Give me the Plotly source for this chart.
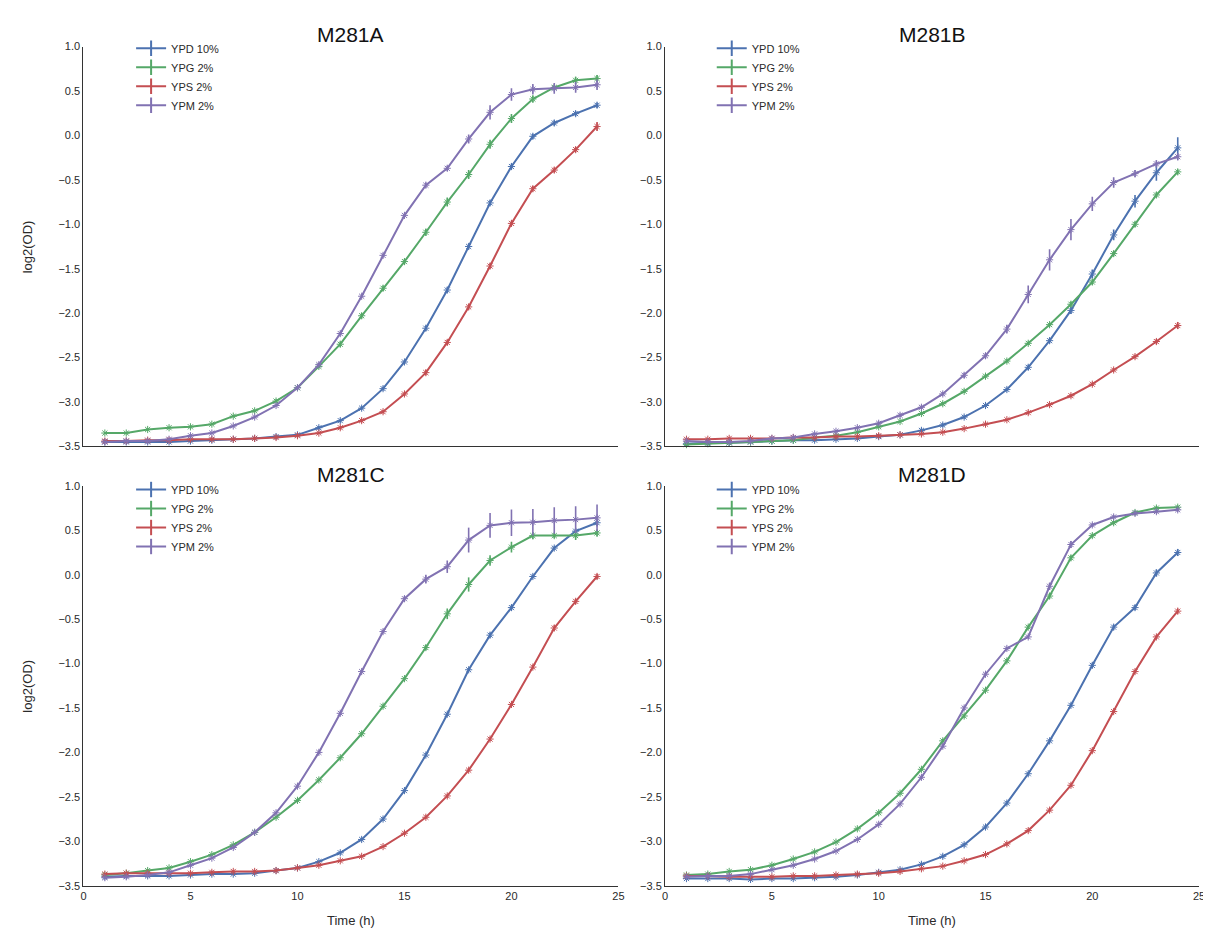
import plotly.graph_objects as go

# ---------------- data ----------------
time_h = [1, 2, 3, 4, 5, 6, 7, 8, 9, 10, 11, 12, 13, 14, 15, 16, 17, 18, 19, 20, 21, 22, 23, 24]
series_names = ["YPD 10%", "YPG 2%", "YPS 2%", "YPM 2%"]
panel_titles = ["M281A", "M281B", "M281C", "M281D"]
x_ticks = [0, 5, 10, 15, 20, 25]
y_ticks = [-3.5, -3.0, -2.5, -2.0, -1.5, -1.0, -0.5, 0.0, 0.5, 1.0]

# M281A
a_ypd = [-3.45, -3.45, -3.45, -3.45, -3.44, -3.43, -3.42, -3.41, -3.39, -3.37, -3.29, -3.21, -3.07, -2.85, -2.55, -2.17, -1.74, -1.25, -0.76, -0.35, -0.01, 0.14, 0.245, 0.34]
a_ypg = [-3.35, -3.35, -3.31, -3.29, -3.28, -3.25, -3.16, -3.10, -2.99, -2.84, -2.60, -2.35, -2.03, -1.72, -1.42, -1.09, -0.75, -0.44, -0.10, 0.19, 0.41, 0.54, 0.62, 0.64]
a_yps = [-3.44, -3.44, -3.43, -3.43, -3.42, -3.42, -3.42, -3.41, -3.40, -3.38, -3.35, -3.29, -3.21, -3.11, -2.91, -2.67, -2.33, -1.93, -1.47, -0.99, -0.60, -0.39, -0.16, 0.10]
a_ypm = [-3.45, -3.44, -3.44, -3.42, -3.38, -3.35, -3.27, -3.17, -3.04, -2.84, -2.58, -2.23, -1.81, -1.35, -0.90, -0.56, -0.37, -0.04, 0.26, 0.46, 0.52, 0.53, 0.54, 0.57]
a_ypd_err = [0.01, 0.01, 0.01, 0.01, 0.01, 0.01, 0.01, 0.01, 0.01, 0.01, 0.02, 0.02, 0.02, 0.02, 0.02, 0.03, 0.03, 0.03, 0.03, 0.03, 0.03, 0.03, 0.03, 0.03]
a_ypg_err = [0.01, 0.01, 0.01, 0.01, 0.01, 0.01, 0.01, 0.01, 0.02, 0.02, 0.02, 0.03, 0.03, 0.03, 0.03, 0.04, 0.05, 0.05, 0.05, 0.05, 0.04, 0.03, 0.04, 0.04]
a_yps_err = [0.01, 0.01, 0.01, 0.01, 0.01, 0.01, 0.01, 0.01, 0.01, 0.01, 0.01, 0.02, 0.02, 0.02, 0.02, 0.03, 0.03, 0.03, 0.03, 0.03, 0.03, 0.03, 0.03, 0.05]
a_ypm_err = [0.01, 0.01, 0.01, 0.01, 0.02, 0.01, 0.01, 0.01, 0.01, 0.02, 0.02, 0.02, 0.02, 0.02, 0.02, 0.03, 0.03, 0.05, 0.08, 0.07, 0.06, 0.06, 0.06, 0.06]

# M281B
b_ypd = [-3.47, -3.46, -3.46, -3.45, -3.44, -3.43, -3.43, -3.42, -3.41, -3.39, -3.37, -3.32, -3.26, -3.17, -3.04, -2.86, -2.61, -2.31, -1.97, -1.56, -1.12, -0.74, -0.42, -0.14]
b_ypg = [-3.48, -3.47, -3.46, -3.45, -3.44, -3.43, -3.40, -3.38, -3.34, -3.28, -3.22, -3.13, -3.02, -2.88, -2.71, -2.54, -2.34, -2.13, -1.90, -1.65, -1.33, -1.00, -0.67, -0.41]
b_yps = [-3.42, -3.42, -3.41, -3.41, -3.41, -3.40, -3.40, -3.39, -3.39, -3.38, -3.37, -3.36, -3.34, -3.30, -3.25, -3.20, -3.12, -3.03, -2.93, -2.80, -2.64, -2.49, -2.32, -2.14]
b_ypm = [-3.44, -3.45, -3.45, -3.44, -3.41, -3.40, -3.36, -3.33, -3.29, -3.24, -3.15, -3.06, -2.91, -2.70, -2.48, -2.18, -1.79, -1.40, -1.06, -0.77, -0.53, -0.43, -0.32, -0.24]
b_ypd_err = [0.01, 0.01, 0.01, 0.01, 0.01, 0.01, 0.01, 0.01, 0.01, 0.01, 0.01, 0.02, 0.02, 0.02, 0.02, 0.02, 0.03, 0.03, 0.04, 0.05, 0.06, 0.07, 0.09, 0.12]
b_ypg_err = [0.01, 0.01, 0.01, 0.01, 0.01, 0.01, 0.01, 0.01, 0.01, 0.01, 0.01, 0.01, 0.02, 0.02, 0.02, 0.02, 0.02, 0.02, 0.03, 0.03, 0.03, 0.03, 0.03, 0.03]
b_yps_err = [0.01, 0.01, 0.01, 0.01, 0.01, 0.01, 0.01, 0.01, 0.01, 0.01, 0.01, 0.01, 0.01, 0.01, 0.01, 0.01, 0.02, 0.02, 0.02, 0.02, 0.02, 0.02, 0.03, 0.04]
b_ypm_err = [0.01, 0.01, 0.01, 0.01, 0.01, 0.01, 0.01, 0.01, 0.01, 0.02, 0.02, 0.02, 0.02, 0.03, 0.03, 0.05, 0.10, 0.12, 0.12, 0.08, 0.06, 0.04, 0.04, 0.04]

# M281C
c_ypd = [-3.40, -3.39, -3.39, -3.39, -3.38, -3.37, -3.37, -3.36, -3.33, -3.30, -3.23, -3.13, -2.98, -2.75, -2.43, -2.03, -1.57, -1.07, -0.68, -0.37, -0.02, 0.30, 0.49, 0.585]
c_ypg = [-3.38, -3.36, -3.33, -3.30, -3.23, -3.15, -3.04, -2.90, -2.73, -2.54, -2.31, -2.06, -1.79, -1.48, -1.17, -0.82, -0.44, -0.11, 0.16, 0.31, 0.44, 0.44, 0.44, 0.47]
c_yps = [-3.37, -3.36, -3.36, -3.36, -3.36, -3.35, -3.34, -3.34, -3.33, -3.30, -3.27, -3.22, -3.17, -3.06, -2.91, -2.73, -2.49, -2.20, -1.85, -1.46, -1.04, -0.60, -0.30, -0.02]
c_ypm = [-3.41, -3.40, -3.38, -3.35, -3.27, -3.19, -3.07, -2.90, -2.68, -2.38, -2.00, -1.56, -1.09, -0.64, -0.27, -0.05, 0.09, 0.39, 0.555, 0.585, 0.59, 0.61, 0.62, 0.64]
c_ypd_err = [0.01, 0.01, 0.01, 0.01, 0.01, 0.01, 0.01, 0.01, 0.01, 0.01, 0.01, 0.02, 0.02, 0.02, 0.02, 0.02, 0.02, 0.02, 0.03, 0.03, 0.02, 0.02, 0.03, 0.04]
c_ypg_err = [0.01, 0.01, 0.01, 0.01, 0.01, 0.01, 0.01, 0.01, 0.01, 0.01, 0.01, 0.01, 0.02, 0.02, 0.02, 0.03, 0.06, 0.08, 0.06, 0.06, 0.04, 0.03, 0.05, 0.04]
c_yps_err = [0.01, 0.01, 0.01, 0.01, 0.01, 0.01, 0.01, 0.01, 0.01, 0.01, 0.01, 0.01, 0.01, 0.01, 0.02, 0.02, 0.02, 0.02, 0.02, 0.02, 0.02, 0.03, 0.03, 0.03]
c_ypm_err = [0.01, 0.01, 0.01, 0.01, 0.01, 0.01, 0.01, 0.01, 0.01, 0.02, 0.02, 0.02, 0.02, 0.02, 0.03, 0.05, 0.07, 0.14, 0.14, 0.15, 0.15, 0.15, 0.15, 0.15]

# M281D
d_ypd = [-3.42, -3.42, -3.42, -3.43, -3.42, -3.42, -3.41, -3.40, -3.38, -3.35, -3.32, -3.26, -3.17, -3.04, -2.84, -2.57, -2.24, -1.87, -1.47, -1.02, -0.59, -0.37, 0.02, 0.25]
d_ypg = [-3.38, -3.37, -3.34, -3.32, -3.27, -3.20, -3.12, -3.01, -2.86, -2.68, -2.46, -2.19, -1.87, -1.59, -1.30, -0.97, -0.59, -0.24, 0.19, 0.44, 0.585, 0.70, 0.75, 0.76]
d_yps = [-3.39, -3.39, -3.40, -3.40, -3.40, -3.39, -3.39, -3.38, -3.37, -3.36, -3.34, -3.31, -3.28, -3.22, -3.15, -3.03, -2.88, -2.65, -2.37, -1.98, -1.54, -1.09, -0.70, -0.41]
d_ypm = [-3.40, -3.39, -3.39, -3.37, -3.32, -3.27, -3.20, -3.11, -2.98, -2.81, -2.58, -2.28, -1.93, -1.50, -1.12, -0.83, -0.70, -0.13, 0.34, 0.56, 0.65, 0.69, 0.71, 0.73]
d_ypd_err = [0.01, 0.01, 0.01, 0.01, 0.01, 0.01, 0.01, 0.01, 0.01, 0.01, 0.01, 0.02, 0.02, 0.02, 0.02, 0.02, 0.02, 0.02, 0.02, 0.03, 0.03, 0.03, 0.04, 0.04]
d_ypg_err = [0.01, 0.01, 0.01, 0.01, 0.01, 0.01, 0.01, 0.01, 0.01, 0.01, 0.01, 0.01, 0.02, 0.02, 0.02, 0.02, 0.02, 0.03, 0.03, 0.02, 0.02, 0.02, 0.02, 0.02]
d_yps_err = [0.01, 0.01, 0.01, 0.01, 0.01, 0.01, 0.01, 0.01, 0.01, 0.01, 0.01, 0.01, 0.01, 0.01, 0.01, 0.02, 0.02, 0.02, 0.02, 0.02, 0.02, 0.02, 0.02, 0.03]
d_ypm_err = [0.01, 0.01, 0.01, 0.01, 0.01, 0.01, 0.01, 0.01, 0.01, 0.01, 0.01, 0.02, 0.02, 0.02, 0.02, 0.02, 0.02, 0.04, 0.04, 0.02, 0.02, 0.02, 0.02, 0.02]

panels = [
    ([a_ypd, a_ypg, a_yps, a_ypm], [a_ypd_err, a_ypg_err, a_yps_err, a_ypm_err]),
    ([b_ypd, b_ypg, b_yps, b_ypm], [b_ypd_err, b_ypg_err, b_yps_err, b_ypm_err]),
    ([c_ypd, c_ypg, c_yps, c_ypm], [c_ypd_err, c_ypg_err, c_yps_err, c_ypm_err]),
    ([d_ypd, d_ypg, d_yps, d_ypm], [d_ypd_err, d_ypg_err, d_yps_err, d_ypm_err]),
]

# ---------------- style / layout ----------------
colors = ["#4C72B0", "#55A868", "#C44E52", "#8172B2"]
W, H = 1211, 935
FONT = "Liberation Sans, Arial, sans-serif"
AX_COLOR = "#333333"
TXT_COLOR = "#2a2a2a"

# pixel boxes of the four axes: (left, right, top, bottom)
boxes = [(73, 612, 33, 438), (659, 1197, 33, 438), (73, 612, 478, 883), (659, 1197, 478, 883)]
# legend anchor (left, top) in pixels
legend_pos = [(121, 20), (706, 20), (121, 467), (706, 467)]

fig = go.Figure()

for p, (ys, errs) in enumerate(panels):
    sfx = "" if p == 0 else str(p + 1)
    for s in range(4):
        fig.add_trace(go.Scatter(
            x=time_h, y=ys[s],
            mode="lines+markers",
            line=dict(color=colors[s], width=2),
            marker=dict(symbol="asterisk-open", size=6, color=colors[s],
                        line=dict(color=colors[s], width=1)),
            error_y=dict(type="data", array=errs[s], visible=True,
                         color=colors[s], thickness=1.6, width=0),
            xaxis="x" + sfx, yaxis="y" + sfx,
            showlegend=False, cliponaxis=False,
        ))
    for s in range(4):
        fig.add_trace(go.Scatter(
            x=[None], y=[None],
            mode="lines+markers",
            name=series_names[s],
            line=dict(color=colors[s], width=2),
            marker=dict(symbol="line-ns-open", size=11, color=colors[s],
                        line=dict(color=colors[s], width=2)),
            xaxis="x" + sfx, yaxis="y" + sfx,
            legend="legend" + sfx, showlegend=True,
        ))

layout = dict(
    width=W, height=H,
    margin=dict(l=0, r=0, t=0, b=0),
    paper_bgcolor="white", plot_bgcolor="white",
    font=dict(family=FONT, color=TXT_COLOR, size=11),
    annotations=[],
)

for p in range(4):
    sfx = "" if p == 0 else str(p + 1)
    l, r, t, b = boxes[p]
    xd = [l / W, r / W]
    yd = [1 - b / H, 1 - t / H]
    bottom_row = p >= 2
    layout["xaxis" + sfx] = dict(
        domain=xd, range=[0, 25], anchor="y" + sfx,
        tickvals=x_ticks, showticklabels=bottom_row,
        showgrid=False, zeroline=False, showline=True,
        linecolor=AX_COLOR, linewidth=1.3, ticks="",
        tickfont=dict(family=FONT, size=11, color=TXT_COLOR),
    )
    layout["yaxis" + sfx] = dict(
        domain=yd, range=[-3.5, 1.0], anchor="x" + sfx,
        tickvals=y_ticks, tickformat=".1f",
        showgrid=False, zeroline=False, showline=True,
        linecolor=AX_COLOR, linewidth=1.3, ticks="",
        tickfont=dict(family=FONT, size=11, color=TXT_COLOR),
    )
    lx, ly = legend_pos[p]
    layout["legend" + sfx] = dict(
        x=lx / W, y=1 - ly / H, xanchor="left", yanchor="top",
        bgcolor="rgba(0,0,0,0)", borderwidth=0,
        font=dict(family=FONT, size=11, color=TXT_COLOR),
        itemwidth=30, tracegroupgap=0,
    )
    # panel title
    layout["annotations"].append(dict(
        text=panel_titles[p], xref="paper", yref="paper",
        x=(l + r) / 2 / W, y=1 - (t - 12) / H,
        xanchor="center", yanchor="middle", showarrow=False,
        font=dict(family=FONT, size=21, color="#111111"),
    ))
    if p % 2 == 0:
        layout["annotations"].append(dict(
            text="log2(OD)", xref="paper", yref="paper",
            x=17 / W, y=1 - ((t + b) / 2) / H, textangle=-90,
            xanchor="center", yanchor="middle", showarrow=False,
            font=dict(family=FONT, size=13, color=TXT_COLOR),
        ))
    if bottom_row:
        layout["annotations"].append(dict(
            text="Time (h)", xref="paper", yref="paper",
            x=(l + r) / 2 / W, y=1 - 918 / H,
            xanchor="center", yanchor="middle", showarrow=False,
            font=dict(family=FONT, size=13, color=TXT_COLOR),
        ))

fig.update_layout(**layout)
fig.write_html("out.html")
